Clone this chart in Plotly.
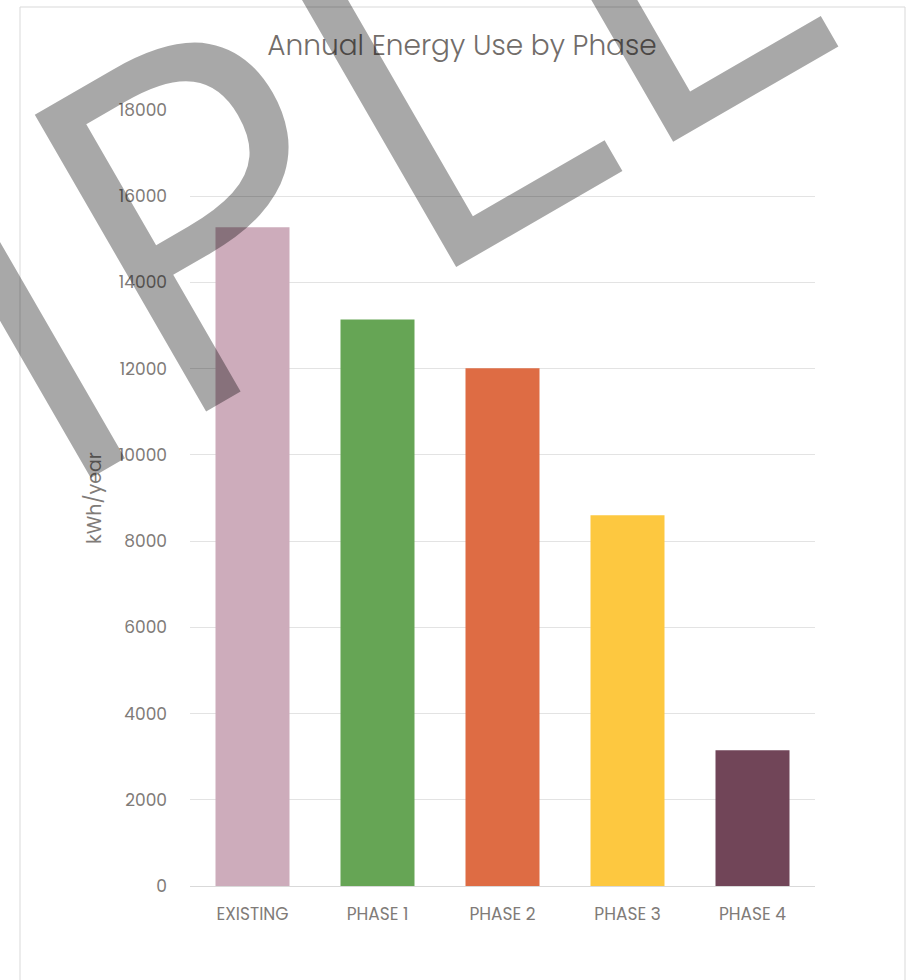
import plotly.graph_objects as go

categories = ["EXISTING", "PHASE 1", "PHASE 2", "PHASE 3", "PHASE 4"]
energy_kwh = [15283, 13140, 12010, 8600, 3150]
bar_colors = ["#cdacbb", "#66a555", "#de6c44", "#fdc840", "#714558"]
y_ticks = [0, 2000, 4000, 6000, 8000, 10000, 12000, 14000, 16000, 18000]

W, H = 912, 980
ML, MR, MT, MB = 190, 97, 110, 94
PW, PH = W - ML - MR, H - MT - MB

def px_to_paper(x, y):
    return (x - ML) / PW, (H - MB - y) / PH

FONT = "Poppins, 'Open Sans', sans-serif"
TXT = "#807b78"

fig = go.Figure()
fig.add_trace(go.Bar(
    x=categories, y=energy_kwh, marker=dict(color=bar_colors, line=dict(width=0)),
    hoverinfo="x+y",
))

# outer chart border
bx0, by0 = px_to_paper(20, 7)
bx1, by1 = px_to_paper(905, 990)
fig.add_shape(type="rect", xref="paper", yref="paper", x0=bx0, x1=bx1, y0=by1, y1=by0,
              line=dict(color="#d9d9d9", width=1), layer="below")

# watermark
wx, wy = px_to_paper(-11, 322)
fig.add_annotation(text="SAMPLE", xref="paper", yref="paper", x=wx, y=wy,
                   xanchor="center", yanchor="middle", showarrow=False, textangle=-30,
                   font=dict(family="'Open Sans', sans-serif", size=480,
                             color="rgba(0,0,0,0.34)"))

fig.update_layout(
    width=W, height=H,
    margin=dict(l=ML, r=MR, t=MT, b=MB),
    paper_bgcolor="white", plot_bgcolor="white",
    bargap=0.408,
    showlegend=False,
    font=dict(family=FONT, color=TXT, size=17),
    title=dict(text="Annual Energy Use by Phase", x=462 / W, xanchor="center",
               y=1 - 45 / H, yanchor="middle", yref="container",
               font=dict(family=FONT, size=28, color="#726d6a", weight=300)),
    xaxis=dict(showgrid=False, showline=True, linecolor="#d9d9d9", linewidth=1,
               ticks="", ticklabelstandoff=13, tickfont=dict(size=17, color=TXT)),
    yaxis=dict(range=[0, 18000], tickvals=y_ticks, tickformat="d", showgrid=True,
               gridcolor="#e3e3e3", gridwidth=1, zeroline=False, showline=False,
               ticks="", ticklabelstandoff=22, tickfont=dict(size=17, color=TXT),
               title=dict(text="kWh/year", standoff=12, font=dict(size=19, color=TXT))),
)

fig.write_html("out.html")
